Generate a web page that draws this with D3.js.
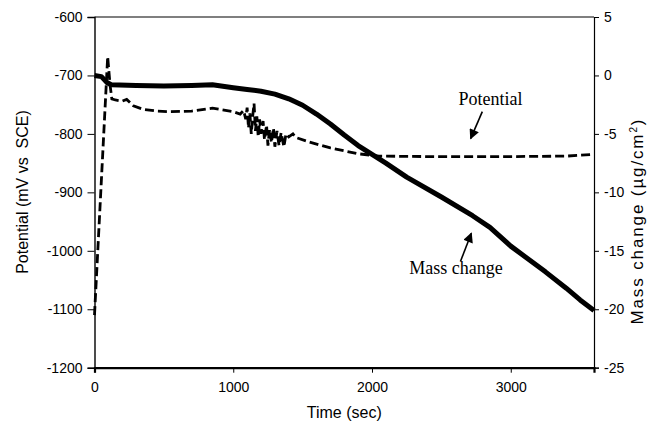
<!DOCTYPE html>
<html>
<head>
<meta charset="utf-8">
<script src="https://cdn.jsdelivr.net/npm/d3@7"></script>
<style>
  body { margin: 0; background: #fff; }
  svg { display: block; }
  .axis text { font-family: "Liberation Sans", Arial, sans-serif; font-size: 14px; fill: #000; }
  .axis path, .axis line { stroke: #000; }
</style>
</head>
<body>
<div id="chart"></div>
<script>
// time (sec) vs potential (mV vs SCE), dashed curve
const potTime = [0, 95, 112, 125, 150, 200, 232, 280, 350, 450, 550, 700, 850, 1000, 1050,
  1075, 1090, 1100, 1110, 1120, 1130, 1140, 1150, 1160, 1170, 1180, 1190, 1200, 1215, 1225,
  1240, 1250, 1262, 1275, 1290, 1300, 1315, 1330, 1345, 1365, 1380, 1400, 1430, 1450,
  1550, 1700, 1800, 1900, 2050, 2500, 2900, 3400, 3600];
const potValue = [-1110, -668, -716, -740, -742, -744, -741, -752, -758, -761, -762, -761, -756, -762, -766,
  -760, -775, -755, -790, -765, -800, -770, -748, -795, -770, -805, -775, -800, -778, -810,
  -785, -820, -792, -815, -790, -822, -795, -820, -798, -822, -800, -805, -800, -806,
  -814, -824, -829, -834, -838, -839, -839, -838, -835];

// time (sec) vs mass change (ug/cm2), solid curve
const massTime = [0, 50, 90, 120, 300, 500, 700, 850, 1000, 1100, 1200, 1300, 1400, 1500, 1600,
  1700, 1800, 1900, 2000, 2100, 2250, 2500, 2725, 2850, 3000, 3250, 3400, 3500, 3600];
const massValue = [0, -0.1, -0.6, -0.8, -0.85, -0.9, -0.85, -0.8, -1.05, -1.2, -1.35, -1.6, -2.0, -2.55, -3.3,
  -4.15, -5.1, -6.0, -6.75, -7.5, -8.7, -10.4, -12.0, -13.0, -14.6, -16.8, -18.2, -19.2, -20.1];

const xTicks = [0, 1000, 2000, 3000];
const leftTicks = [-600, -700, -800, -900, -1000, -1100, -1200];
const rightTicks = [5, 0, -5, -10, -15, -20, -25];

const width = 653, height = 427;
const margin = { top: 17, right: 59, bottom: 59.3, left: 94.5 };

const svg = d3.select("#chart").append("svg")
  .attr("width", width)
  .attr("height", height);

const x = d3.scaleLinear().domain([0, 3600]).range([margin.left, width - margin.right]);
const yL = d3.scaleLinear().domain([-1200, -600]).range([height - margin.bottom, margin.top]);
const yR = d3.scaleLinear().domain([-25, 5]).range([height - margin.bottom, margin.top]);

// frame top line
svg.append("line")
  .attr("x1", x(0)).attr("x2", x(3600))
  .attr("y1", margin.top).attr("y2", margin.top)
  .attr("stroke", "#000").attr("stroke-width", 1.2);

// curves
const potLine = d3.line()
  .x((d, i) => x(potTime[i]))
  .y(d => yL(d));
svg.append("path")
  .datum(potValue)
  .attr("d", potLine)
  .attr("fill", "none")
  .attr("stroke", "#000")
  .attr("stroke-width", 2.8)
  .attr("stroke-dasharray", "9,4");

const massLine = d3.line()
  .x((d, i) => x(massTime[i]))
  .y(d => yR(d));
svg.append("path")
  .datum(massValue)
  .attr("d", massLine)
  .attr("fill", "none")
  .attr("stroke", "#000")
  .attr("stroke-width", 5)
  .attr("stroke-linejoin", "round");

// axes
const fmt = d => String(d);
svg.append("g")
  .attr("class", "axis")
  .attr("transform", `translate(0,${height - margin.bottom})`)
  .call(d3.axisBottom(x).tickValues(xTicks).tickFormat(fmt).tickSizeOuter(0).tickSize(5).tickPadding(9))
  .call(g => g.select(".domain").attr("stroke-width", 2.2));

svg.append("g")
  .attr("class", "axis")
  .attr("transform", `translate(${margin.left},0)`)
  .call(d3.axisLeft(yL).tickValues(leftTicks).tickFormat(fmt).tickSizeOuter(0).tickSize(7).tickPadding(5))
  .call(g => g.select(".domain").attr("stroke-width", 1.4));

svg.append("g")
  .attr("class", "axis")
  .attr("transform", `translate(${width - margin.right},0)`)
  .call(d3.axisRight(yR).tickValues(rightTicks).tickFormat(fmt).tickSizeOuter(0).tickSize(5).tickPadding(5))
  .call(g => g.select(".domain").attr("stroke-width", 1.2));

// axis titles
const titleFont = "'Liberation Sans', Arial, sans-serif";
svg.append("text")
  .attr("x", (x(0) + x(3600)) / 2)
  .attr("y", 418)
  .attr("text-anchor", "middle")
  .style("font-family", titleFont)
  .style("font-size", "16px")
  .text("Time (sec)");

svg.append("text")
  .attr("transform", "translate(28,192) rotate(-90)")
  .attr("text-anchor", "middle")
  .style("font-family", titleFont)
  .style("font-size", "16px")
  .style("white-space", "pre")
  .text("Potential (mV vs  SCE)");

const rt = svg.append("text")
  .attr("transform", "translate(643,222) rotate(-90)")
  .attr("text-anchor", "middle")
  .attr("textLength", 205)
  .attr("lengthAdjust", "spacing")
  .style("font-family", titleFont)
  .style("font-size", "17px");
rt.append("tspan").text("Mass change (\u00b5g/cm");
rt.append("tspan").attr("dy", -6).style("font-size", "10px").text("2");
rt.append("tspan").attr("dy", 6).text(")");

// annotations with arrows
svg.append("defs").append("marker")
  .attr("id", "arrow")
  .attr("viewBox", "0 0 10 10")
  .attr("refX", 9).attr("refY", 5)
  .attr("markerWidth", 11).attr("markerHeight", 10)
  .attr("markerUnits", "userSpaceOnUse")
  .attr("orient", "auto")
  .append("path")
  .attr("d", "M0,0L10,5L0,10Z")
  .attr("fill", "#000");

const notes = [
  { label: "Potential", tx: 2854, ty: -751, fromT: 2795, fromV: -762, toT: 2711, toV: -808, scale: yL },
  { label: "Mass change", tx: 2605, ty: -17, fromT: 2638, fromV: -15.9, toT: 2716, toV: -13.5, scale: yR }
];
notes.forEach(n => {
  svg.append("text")
    .attr("x", x(n.tx))
    .attr("y", n.scale(n.ty))
    .attr("text-anchor", "middle")
    .style("font-family", "'Liberation Serif', 'Times New Roman', serif")
    .style("font-size", "18px")
    .text(n.label);
  svg.append("line")
    .attr("x1", x(n.fromT)).attr("y1", n.scale(n.fromV))
    .attr("x2", x(n.toT)).attr("y2", n.scale(n.toV))
    .attr("stroke", "#000")
    .attr("stroke-width", 1.6)
    .attr("marker-end", "url(#arrow)");
});
</script>
</body>
</html>
